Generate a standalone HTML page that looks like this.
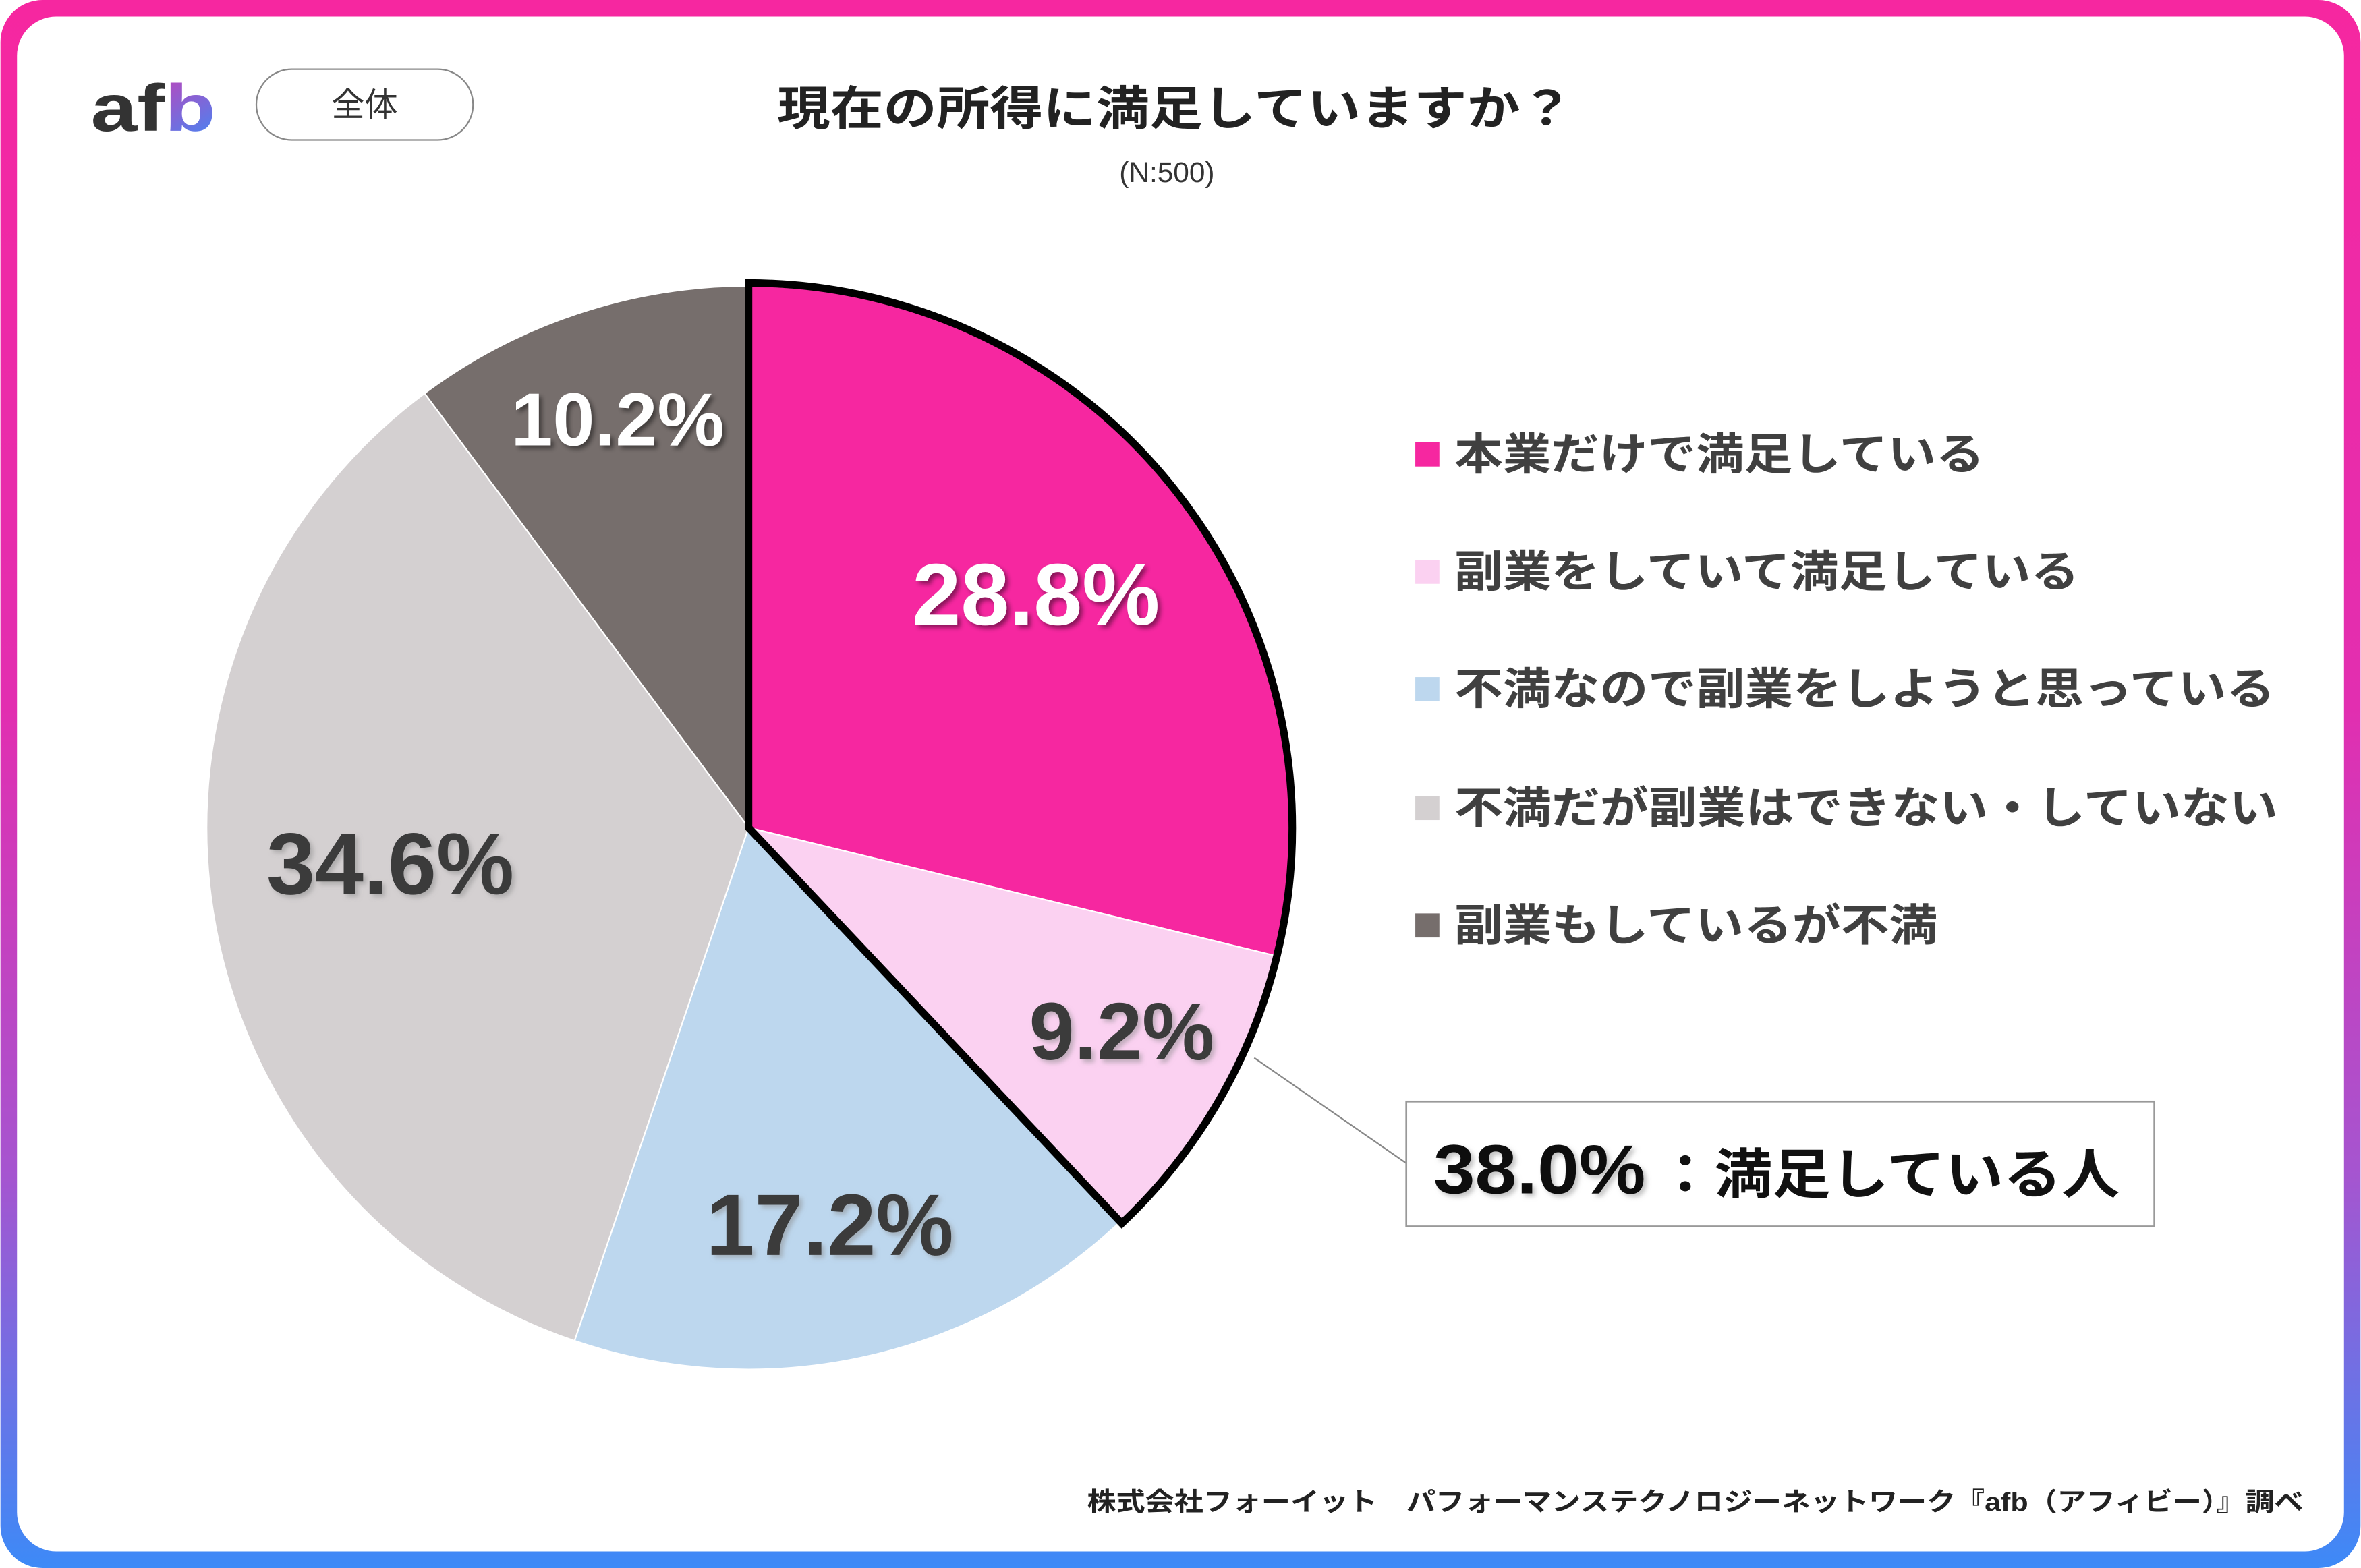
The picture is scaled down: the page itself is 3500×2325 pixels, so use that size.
<!DOCTYPE html>
<html><head><meta charset="utf-8">
<style>
html,body{margin:0;padding:0;background:#fff;}
svg{display:block;}
text{font-family:"Liberation Sans","Noto Sans CJK JP",sans-serif;}
</style></head>
<body>
<svg width="3500" height="2325" viewBox="0 0 1568 1042" xmlns="http://www.w3.org/2000/svg">
<defs>
<linearGradient id="bg" x1="0" y1="0" x2="0" y2="1">
<stop offset="0" stop-color="#f627a0"/><stop offset="0.45" stop-color="#e22eb0"/><stop offset="0.75" stop-color="#a555d0"/><stop offset="1" stop-color="#3d8af7"/>
</linearGradient>
<linearGradient id="lb" x1="0" y1="0" x2="1" y2="1">
<stop offset="0" stop-color="#f627a0"/><stop offset="1" stop-color="#3d8af7"/>
</linearGradient>
<filter id="sh" x="-10%" y="-10%" width="130%" height="130%"><feDropShadow dx="2" dy="2" stdDeviation="1.5" flood-color="#000" flood-opacity="0.45"/></filter>
<filter id="shl" x="-10%" y="-10%" width="130%" height="130%"><feDropShadow dx="2" dy="2" stdDeviation="1.5" flood-color="#888" flood-opacity="0.5"/></filter>
</defs>
<rect x="0" y="0" width="1568" height="1042" rx="28" fill="url(#bg)"/>
<rect x="11" y="11" width="1546" height="1020" rx="26" fill="#fff"/>

<!-- logo -->
<text x="60" y="87" font-size="44" font-weight="bold" fill="#333" textLength="83" lengthAdjust="spacingAndGlyphs">af<tspan fill="url(#lb)">b</tspan></text>
<rect x="170" y="46" width="144" height="47" rx="23.5" fill="#fff" stroke="#888" stroke-width="1"/>
<text x="242" y="77" font-size="22" fill="#333" text-anchor="middle">全体</text>

<text x="516" y="83" font-size="31" font-weight="bold" fill="#222" textLength="529" lengthAdjust="spacingAndGlyphs">現在の所得に満足していますか？</text>
<text x="775" y="121" font-size="19" fill="#333" text-anchor="middle">(N:500)</text>

<!-- pie -->
<g stroke="#fff" stroke-width="1">
<path d="M497,550 L497,190 A360,360 0 0 1 846.8,635.1 Z" fill="#f627a0"/>
<path d="M497,550 L846.8,635.1 A360,360 0 0 1 743.4,812.4 Z" fill="#fbd1f1"/>
<path d="M497,550 L743.4,812.4 A360,360 0 0 1 381.4,891 Z" fill="#bdd7ee"/>
<path d="M497,550 L381.4,891 A360,360 0 0 1 281.8,261.4 Z" fill="#d4d0d1"/>
<path d="M497,550 L281.8,261.4 A360,360 0 0 1 497,190 Z" fill="#766e6c"/>
</g>
<path d="M497,550 L497,188 A362,362 0 0 1 745,813 Z" fill="none" stroke="#000" stroke-width="5" stroke-linejoin="miter"/>

<g font-size="58" font-weight="bold" text-anchor="middle">
<text x="688" y="415" fill="#fff" filter="url(#sh)">28.8%</text>
<text x="410" y="296" fill="#fff" font-size="50" filter="url(#sh)">10.2%</text>
<text x="745" y="704" fill="#3a3a3a" font-size="54" filter="url(#shl)">9.2%</text>
<text x="551" y="834" fill="#3a3a3a" filter="url(#shl)">17.2%</text>
<text x="259" y="594" fill="#3a3a3a" filter="url(#shl)">34.6%</text>
</g>

<!-- legend -->
<g font-size="29" fill="#404040" font-weight="bold">
<rect x="940" y="294" width="16" height="16" fill="#f627a0"/><text x="966" y="312" textLength="352" lengthAdjust="spacingAndGlyphs">本業だけで満足している</text>
<rect x="940" y="372" width="16" height="16" fill="#fbd1f1"/><text x="966" y="390" textLength="415" lengthAdjust="spacingAndGlyphs">副業をしていて満足している</text>
<rect x="940" y="450" width="16" height="16" fill="#bdd7ee"/><text x="966" y="468" textLength="545" lengthAdjust="spacingAndGlyphs">不満なので副業をしようと思っている</text>
<rect x="940" y="529" width="16" height="16" fill="#d4d0d1"/><text x="966" y="547" textLength="547" lengthAdjust="spacingAndGlyphs">不満だが副業はできない・していない</text>
<rect x="940" y="607" width="16" height="16" fill="#766e6c"/><text x="966" y="625" textLength="321" lengthAdjust="spacingAndGlyphs">副業もしているが不満</text>
</g>

<!-- callout -->
<line x1="833" y1="703" x2="934" y2="773" stroke="#888" stroke-width="1"/>
<rect x="934" y="732" width="497" height="83" fill="#fff" stroke="#999" stroke-width="1.2"/>
<text x="952" y="793" font-size="46" font-weight="bold" fill="#111" filter="url(#shl)" textLength="141" lengthAdjust="spacingAndGlyphs">38.0%</text>
<text x="1100" y="793" font-size="36" font-weight="bold" fill="#111" textLength="308" lengthAdjust="spacingAndGlyphs">：満足している人</text>

<text x="722" y="1004" font-size="17" font-weight="bold" fill="#222" textLength="808" lengthAdjust="spacingAndGlyphs">株式会社フォーイット　パフォーマンステクノロジーネットワーク『afb（アフィビー）』調べ</text>
</svg>
</body></html>
